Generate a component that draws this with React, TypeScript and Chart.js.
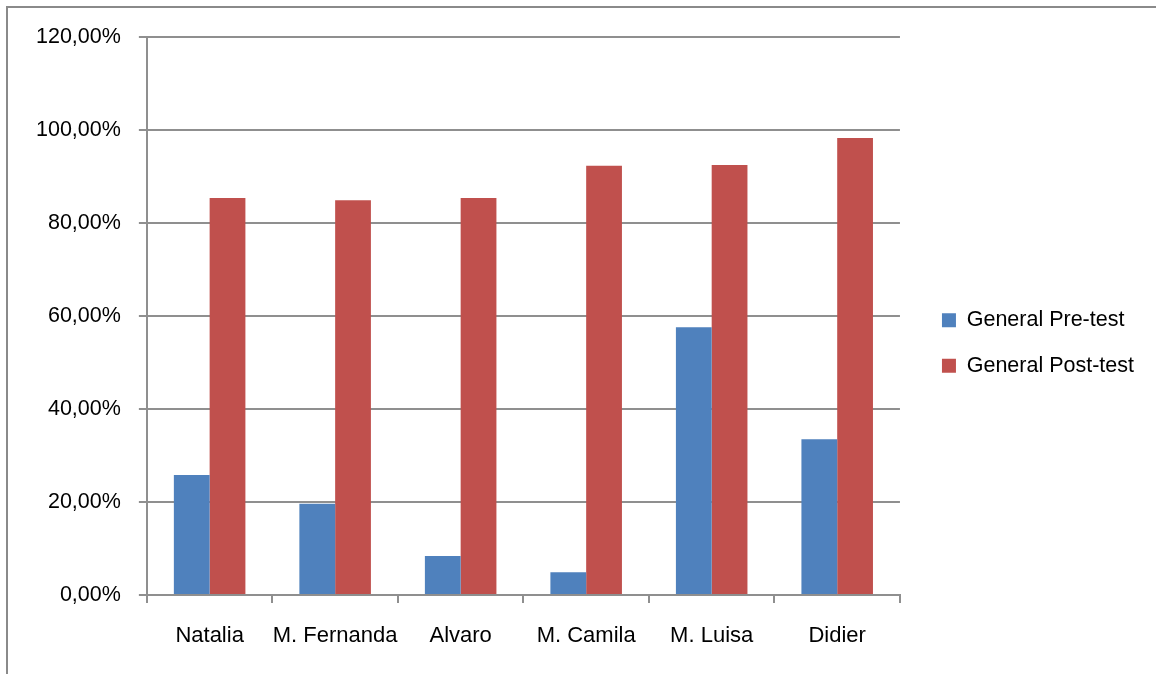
import React, { useEffect, useRef } from "react";
import { Chart, registerables } from "chart.js";

Chart.register(...registerables);

const categories = ["Natalia", "M. Fernanda", "Alvaro", "M. Camila", "M. Luisa", "Didier"];
const preTest = [25.8, 19.6, 8.4, 4.9, 57.6, 33.5];
const postTest = [85.4, 84.9, 85.4, 92.3, 92.5, 98.3];
const seriesNames = ["General Pre-test", "General Post-test"];

const FONT = "'Liberation Sans', Arial, sans-serif";
const GRID = "#8f8f8f";

const framePlugin = {
  id: "frame",
  beforeDraw(chart: any) {
    const ctx = chart.ctx;
    ctx.save();
    ctx.strokeStyle = "#8a8a8a";
    ctx.lineWidth = 2;
    ctx.beginPath();
    ctx.moveTo(7, chart.height);
    ctx.lineTo(7, 7);
    ctx.lineTo(chart.width, 7);
    ctx.stroke();
    ctx.restore();
  },
};

export default function App() {
  const ref = useRef<HTMLCanvasElement | null>(null);
  useEffect(() => {
    document.body.style.margin = "0";
    const chart = new Chart(ref.current!, {
      type: "bar",
      data: {
        labels: categories,
        datasets: [
          {
            label: seriesNames[0],
            data: preTest,
            backgroundColor: "#4F81BD",
            borderWidth: 0,
            categoryPercentage: 0.57,
            barPercentage: 1,
          },
          {
            label: seriesNames[1],
            data: postTest,
            backgroundColor: "#C0504D",
            borderWidth: 0,
            categoryPercentage: 0.57,
            barPercentage: 1,
          },
        ],
      },
      options: {
        animation: false,
        responsive: false,
        maintainAspectRatio: false,
        layout: { padding: { left: 18, top: 37, right: 12, bottom: 25 } },
        plugins: {
          legend: {
            position: "right",
            align: "center",
            maxWidth: 400,
            labels: {
              boxWidth: 14,
              boxHeight: 14,
              padding: 24,
              color: "#000",
              font: { family: FONT, size: 21.5 },
            },
          },
          tooltip: { enabled: false },
        },
        scales: {
          x: {
            grid: {
              offset: true,
              drawOnChartArea: false,
              drawTicks: true,
              tickLength: 8,
              color: GRID,
              lineWidth: 2,
            },
            border: { color: GRID, width: 2 },
            ticks: {
              color: "#000",
              padding: 20,
              autoSkip: false,
              maxRotation: 0,
              font: { family: FONT, size: 22 },
            },
            afterFit: (s: any) => {
              s.height = 54;
            },
          },
          y: {
            min: 0,
            max: 120,
            grid: { color: GRID, lineWidth: 2, tickLength: 8 },
            border: { color: GRID, width: 2 },
            ticks: {
              stepSize: 20,
              padding: 18,
              color: "#000",
              font: { family: FONT, size: 21.5 },
              callback: (v: any) => Number(v).toFixed(2).replace(".", ",") + "%",
            },
          },
          spacer: {
            type: "linear",
            position: "right",
            display: true,
            grid: { display: false, drawTicks: false },
            border: { display: false },
            ticks: { display: false },
            afterFit: (s: any) => {
              s.width = 18;
            },
          },
        },
      },
      plugins: [framePlugin],
    } as any);
    return () => chart.destroy();
  }, []);
  return (
    <div style={{ position: "absolute", left: 0, top: 0, width: 1156, height: 674, background: "#fff" }}>
      <canvas ref={ref} width={1156} height={674} />
    </div>
  );
}
